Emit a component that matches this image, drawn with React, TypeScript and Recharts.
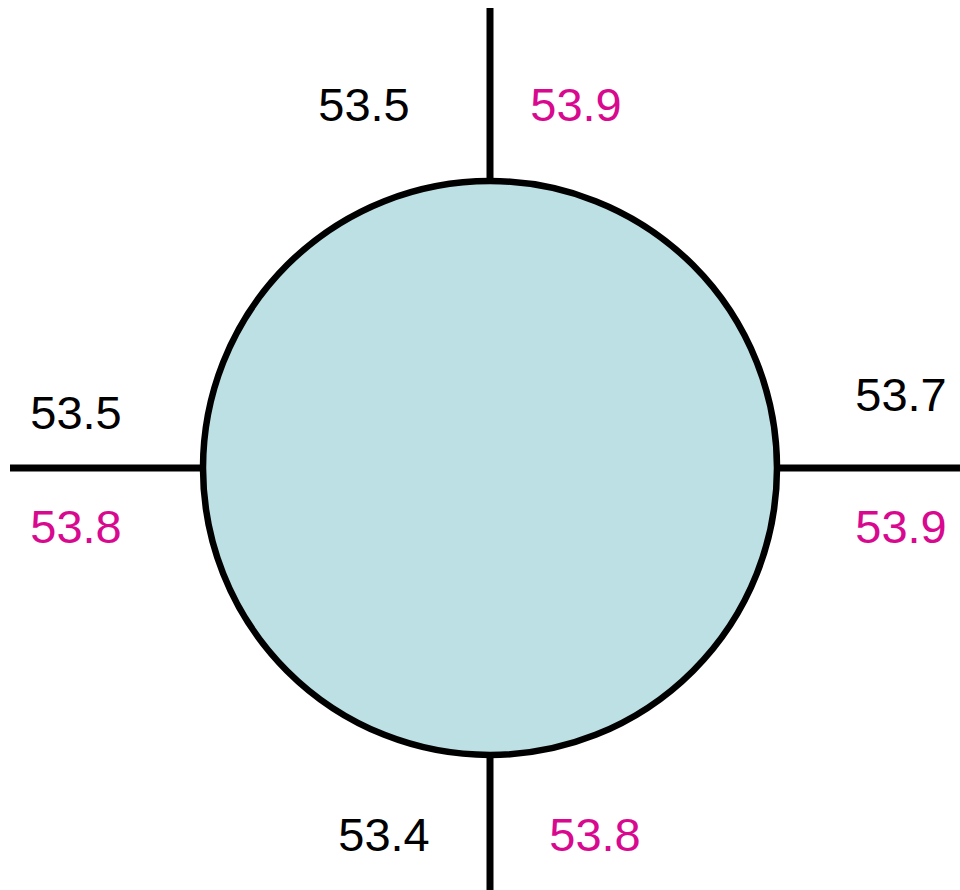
import { ComposedChart, ReferenceDot, ReferenceLine, Scatter, XAxis, YAxis } from "recharts";

const directions = ["N", "E", "S", "W"];
const blackValues = [53.5, 53.7, 53.4, 53.5];
const pinkValues = [53.9, 53.9, 53.8, 53.8];

const BLACK = "#000000";
const PINK = "#d8088f";
const FILL = "#bce0e3";
const RADIUS = 287;

// label anchors relative to the circle centre, in axis units (1 unit = 1px)
const blackSpots: Record<string, [number, number]> = {
  N: [-126, 347],
  E: [411, 57],
  S: [-106, -383],
  W: [-414, 39],
};
const pinkSpots: Record<string, [number, number]> = {
  N: [86, 347],
  E: [411, -75],
  S: [105, -383],
  W: [-414, -75],
};

// where each arm ends
const armEnds: Record<string, [number, number]> = {
  N: [0, 460],
  E: [470, 0],
  S: [0, -422],
  W: [-480, 0],
};

const blackData = directions.map((d, i) => ({ x: blackSpots[d][0], y: blackSpots[d][1], label: blackValues[i].toFixed(1) }));
const pinkData = directions.map((d, i) => ({ x: pinkSpots[d][0], y: pinkSpots[d][1], label: pinkValues[i].toFixed(1) }));

const labelShape = (color: string) => (p: any) => (
  <text
    x={p.cx}
    y={p.cy}
    textAnchor="middle"
    fill={color}
    fontSize={47}
    fontFamily="'Liberation Sans', Arial, sans-serif"
  >
    {p.payload.label}
  </text>
);

const App = () => {
  return (
    <div style={{ width: 960, height: 890 }}>
      <style>{"body{margin:0}"}</style>
      <ComposedChart width={960} height={890} margin={{ top: 0, right: 0, bottom: 0, left: 0 }}>
        <XAxis type="number" dataKey="x" domain={[-490, 470]} hide allowDataOverflow />
        <YAxis type="number" dataKey="y" domain={[-422, 468]} hide allowDataOverflow />
        {directions.map((d) => {
          const [ex, ey] = armEnds[d];
          const sx = ex === 0 ? 0 : Math.sign(ex) * RADIUS;
          const sy = ey === 0 ? 0 : Math.sign(ey) * RADIUS;
          return (
            <ReferenceLine
              key={d}
              segment={[{ x: sx, y: sy }, { x: ex, y: ey }]}
              stroke={BLACK}
              strokeWidth={7}
              ifOverflow="visible"
            />
          );
        })}
        <ReferenceDot x={0} y={0} r={RADIUS} fill={FILL} stroke={BLACK} strokeWidth={6.5} ifOverflow="visible" />
        <Scatter data={blackData} shape={labelShape(BLACK)} isAnimationActive={false} />
        <Scatter data={pinkData} shape={labelShape(PINK)} isAnimationActive={false} />
      </ComposedChart>
    </div>
  );
};

export default App;
